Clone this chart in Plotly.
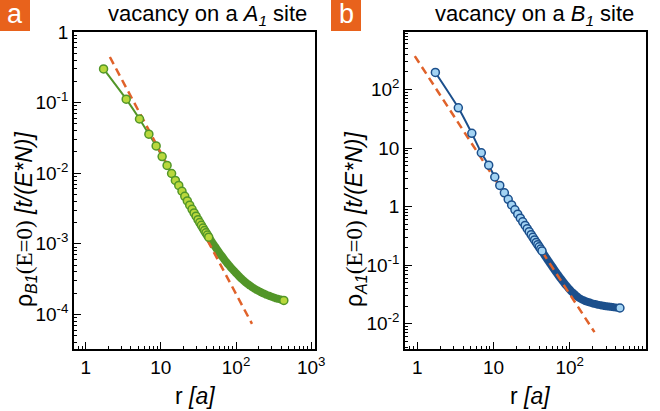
import plotly.graph_objects as go

# ---------------- data ----------------
# panel a : vacancy on A1 site, density on B1 sites
r_a = [1.73, 3.46, 5.20, 6.93, 8.66, 10.4, 12.1, 13.9, 15.6, 17.3, 19.1, 20.8, 22.5, 24.2,
       26.0, 27.7, 29.4, 31.2, 32.9, 34.6, 36.4, 38.1, 39.8, 41.6, 43.3,
       46, 49, 52, 55, 58, 62, 66, 70, 75, 80, 85, 90, 96, 102, 108, 115, 122, 130, 138,
       147, 156, 166, 177, 188, 200, 213, 226, 240, 255, 271, 288, 306, 325, 345, 366,
       388, 412, 432]
rho_a = [0.30, 0.112, 0.0586, 0.0357, 0.0243, 0.0172, 0.0129, 0.0099, 0.0079, 0.00672,
         0.00555, 0.00471, 0.00405, 0.00353, 0.00308, 0.00274, 0.00246, 0.00220, 0.00200,
         0.00183, 0.00167, 0.00154, 0.00143, 0.00133, 0.00124,
         1.13e-3, 1.02e-3, 9.31e-4, 8.53e-4, 7.86e-4, 7.11e-4, 6.50e-4, 5.98e-4, 5.45e-4,
         5.01e-4, 4.65e-4, 4.34e-4, 4.03e-4, 3.76e-4, 3.53e-4, 3.30e-4, 3.11e-4, 2.93e-4,
         2.78e-4, 2.64e-4, 2.52e-4, 2.41e-4, 2.30e-4, 2.22e-4, 2.14e-4, 2.07e-4, 2.00e-4,
         1.95e-4, 1.89e-4, 1.85e-4, 1.80e-4, 1.76e-4, 1.72e-4, 1.68e-4, 1.66e-4, 1.63e-4,
         1.60e-4, 1.58e-4]
fit_r_a = [2.1, 163]
fit_rho_a = [0.442, 7.34e-5]

# panel b : vacancy on B1 site, density on A1 sites
r_b = [1.73, 3.46, 5.20, 6.93, 8.66, 10.4, 12.1, 13.9, 15.6, 17.3, 19.1, 20.8, 22.5, 24.2,
       26.0, 27.7, 29.4, 31.2, 32.9, 34.6, 36.4, 38.1, 39.8, 41.6, 43.3,
       46, 49, 52, 55, 58, 62, 66, 70, 75, 80, 85, 90, 96, 102, 108, 115, 122, 130, 138,
       147, 156, 166, 177, 188, 200, 213, 226, 240, 255, 271, 288, 306, 325, 345, 366,
       388, 412, 435, 455]
rho_b = [195, 48.6, 17.8, 8.3, 5.1, 3.2, 2.3, 1.72, 1.33, 1.07, 0.88, 0.743, 0.636, 0.550,
         0.477, 0.420, 0.373, 0.332, 0.299, 0.270, 0.245, 0.224, 0.206, 0.189, 0.175,
         0.1533, 0.1355, 0.1207, 0.1083, 0.0978, 0.0863, 0.0768, 0.0689, 0.0610, 0.0545,
         0.0492, 0.0449, 0.0407, 0.0374, 0.0346, 0.0321, 0.0301, 0.0282, 0.0269, 0.0257,
         0.0248, 0.0240, 0.0234, 0.0229, 0.0222, 0.0218, 0.0214, 0.0210, 0.0207, 0.0204,
         0.0201, 0.0199, 0.0197, 0.0195, 0.0193, 0.0191, 0.0189, 0.0187, 0.0186]
fit_r_b = [0.93, 211]
fit_rho_b = [371, 0.00721]

n_sep = 25  # number of individually visible markers

x_tickvals = [1, 10, 100, 1000]
x_ticktext = ["1", "10", "10<sup>2</sup>", "10<sup>3</sup>"]
ya_tickvals = [1, 0.1, 0.01, 0.001, 0.0001]
ya_ticktext = ["1", "10<sup>-1</sup>", "10<sup>-2</sup>", "10<sup>-3</sup>", "10<sup>-4</sup>"]
yb_tickvals = [100, 10, 1, 0.1, 0.01]
yb_ticktext = ["10<sup>2</sup>", "10", "1", "10<sup>-1</sup>", "10<sup>-2</sup>"]

# ---------------- styles ----------------
FONT = "Liberation Sans, Arial, Helvetica, sans-serif"
GREEN_LINE = "#529628"
GREEN_FILL = "#b9d83c"
BLUE_LINE = "#1b4f8c"
BLUE_FILL = "#a3d3f3"
FIT = "#e0622a"
ORANGE = "#e8621c"

fig = go.Figure()


def add_panel(r, rho, fr, frho, xa, ya, lc, fc):
    fig.add_trace(go.Scatter(x=r, y=rho, mode="lines",
                             line=dict(color=lc, width=2, shape="spline", smoothing=0.6),
                             xaxis=xa, yaxis=ya, showlegend=False, hoverinfo="skip"))
    fig.add_trace(go.Scatter(x=r[n_sep - 3:], y=rho[n_sep - 3:], mode="lines",
                             line=dict(color=lc, width=8, shape="spline", smoothing=0.8),
                             xaxis=xa, yaxis=ya, showlegend=False, hoverinfo="skip"))
    fig.add_trace(go.Scatter(x=fr, y=frho, mode="lines",
                             line=dict(color=FIT, width=2.5, dash="8px,5px"),
                             xaxis=xa, yaxis=ya, showlegend=False))
    fig.add_trace(go.Scatter(x=r[:n_sep] + [r[-1]], y=rho[:n_sep] + [rho[-1]], mode="markers",
                             marker=dict(size=8, color=fc, line=dict(color=lc, width=1.5)),
                             xaxis=xa, yaxis=ya, showlegend=False))


add_panel(r_a, rho_a, fit_r_a, fit_rho_a, "x", "y", GREEN_LINE, GREEN_FILL)
add_panel(r_b, rho_b, fit_r_b, fit_rho_b, "x2", "y2", BLUE_LINE, BLUE_FILL)

axis_common = dict(type="log", showgrid=False, zeroline=False, showline=True, automargin=False,
                   linecolor="black", linewidth=1.5, mirror=True, ticks="inside",
                   ticklen=7, tickwidth=1.2, tickcolor="black",
                   tickfont=dict(family=FONT, size=19, color="black"),
                   minor=dict(ticks="inside", ticklen=3.5, tickwidth=1, tickcolor="black",
                              dtick="D1", showgrid=False))

fig.update_layout(
    width=660, height=411, autosize=False,
    margin=dict(l=0, r=0, t=0, b=0, autoexpand=False),
    paper_bgcolor="white", plot_bgcolor="white",
    xaxis=dict(axis_common, domain=[74 / 660, 315 / 660], range=[-0.155, 3.05],
               tickmode="array", tickvals=x_tickvals, ticktext=x_ticktext, anchor="y"),
    yaxis=dict(axis_common, domain=[1 - 349 / 411, 1 - 32 / 411], range=[-4.49, 0],
               tickmode="array", tickvals=ya_tickvals, ticktext=ya_ticktext, anchor="x"),
    xaxis2=dict(axis_common, domain=[405 / 660, 646 / 660], range=[-0.16, 3.0],
                tickmode="array", tickvals=x_tickvals, ticktext=x_ticktext, anchor="y2"),
    yaxis2=dict(axis_common, domain=[1 - 349 / 411, 1 - 32 / 411], range=[-2.43, 2.98],
                tickmode="array", tickvals=yb_tickvals, ticktext=yb_ticktext, anchor="x2"),
)

# panel label boxes
for x0, lab in [(0, "a"), (331, "b")]:
    fig.add_shape(type="rect", xref="paper", yref="paper", x0=x0 / 660, x1=(x0 + 30) / 660,
                  y0=1 - 31 / 411, y1=1, fillcolor=ORANGE, line=dict(width=0))
    fig.add_annotation(text=lab, xref="paper", yref="paper", x=(x0 + 15) / 660, y=1 - 14 / 411,
                       showarrow=False, xanchor="center", yanchor="middle",
                       font=dict(family=FONT, size=27, color="white"))

# titles
for xc, site in [(207, "A"), (534, "B")]:
    fig.add_annotation(text=f"vacancy on a <i>{site}<sub>1</sub></i> site", xref="paper",
                       yref="paper", x=xc / 660, y=1 - 15 / 411, showarrow=False,
                       xanchor="center", yanchor="middle",
                       font=dict(family=FONT, size=22, color="black"))

# x-axis titles
for xc in [195, 530]:
    fig.add_annotation(text="r <i>[a]</i>", xref="paper", yref="paper", x=xc / 660,
                       y=1 - 396 / 411, showarrow=False, xanchor="center", yanchor="middle",
                       font=dict(family=FONT, size=23, color="black"))

# y-axis titles
for xc, sub in [(25, "B1"), (355, "A1")]:
    fig.add_annotation(
        text=f"ρ<sub><i>{sub}</i></sub><span style='font-family:Liberation Serif, Times New Roman, serif'>(E=0)</span> <i>[t/(E*N)]</i>",
        xref="paper", yref="paper", x=xc / 660, y=1 - 220 / 411, showarrow=False,
        textangle=-90, xanchor="center", yanchor="middle",
        font=dict(family=FONT, size=23, color="black"))

fig.write_html("out.html", config={"displayModeBar": False},
               post_script="document.body.style.margin='0';document.body.style.overflow='hidden';")
